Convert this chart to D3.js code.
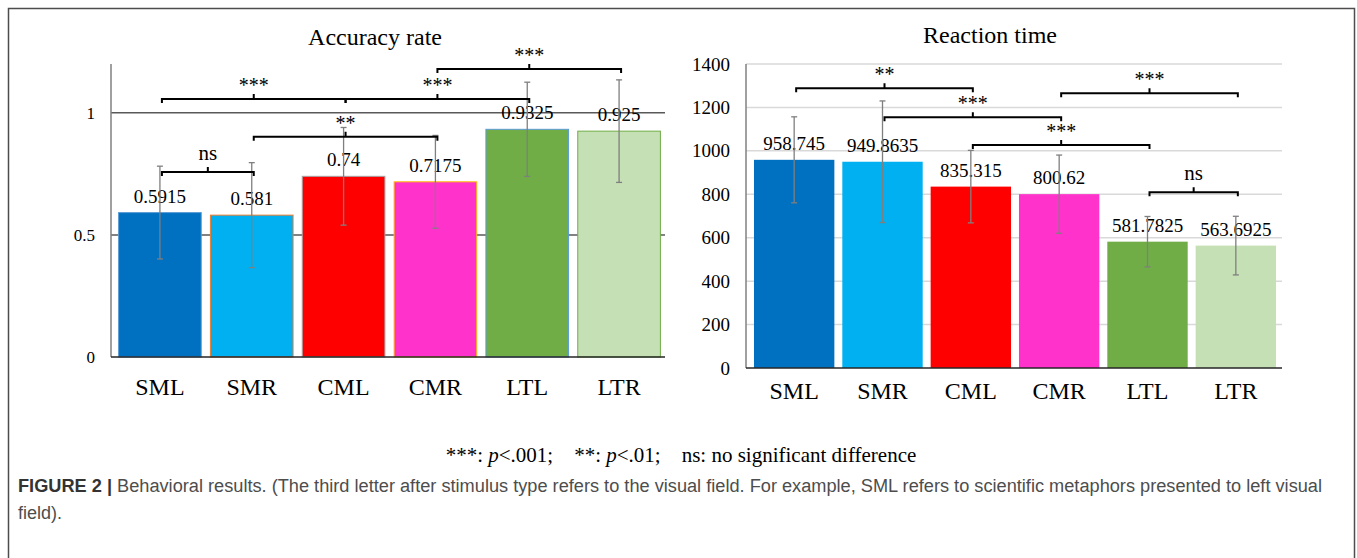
<!DOCTYPE html>
<html>
<head>
<meta charset="utf-8">
<script src="https://cdn.jsdelivr.net/npm/d3@7"></script>
<style>
  body { margin: 0; background: #fff; }
  text { font-family: "Liberation Serif", "Times New Roman", serif; }
</style>
</head>
<body>
<script>
// ---- data ----
const categories = ["SML", "SMR", "CML", "CMR", "LTL", "LTR"];
const barColors = ["#0070C0", "#00B0F0", "#FF0000", "#FF33CC", "#70AD47", "#C5E0B4"];
const barEdges = ["#5B9BD5", "#ED7D31", "#A5A5A5", "#FFC000", "#5B9BD5", "#70AD47"];

const accuracy = [0.5915, 0.581, 0.74, 0.7175, 0.9325, 0.925];
const accuracyErr = [0.19, 0.215, 0.2, 0.19, 0.193, 0.21];
const accuracyTicks = [0, 0.5, 1];
// [from, to, height (data units), label]
const accuracyBrackets = [
  ["SML", "SMR", 0.758, "ns"],
  ["SMR", "CMR", 0.902, "**"],
  ["SML", "CML", 1.057, "***"],
  ["CML", "LTL", 1.057, "***"],
  ["CMR", "LTR", 1.18, "***"]
];

const rt = [958.745, 949.8635, 835.315, 800.62, 581.7825, 563.6925];
const rtErr = [198, 280, 167, 180, 116, 135];
const rtTicks = [0, 200, 400, 600, 800, 1000, 1200, 1400];
const rtBrackets = [
  ["SML", "CML", 1288, "**"],
  ["SMR", "CMR", 1155, "***"],
  ["CML", "LTL", 1027, "***"],
  ["CMR", "LTR", 1265, "***"],
  ["LTL", "LTR", 809, "ns"]
];

const W = 1357, H = 558;
const svg = d3.select("body").append("svg")
  .attr("width", W).attr("height", H);

svg.append("rect").attr("width", W).attr("height", H).attr("fill", "#fff");
// frame around the figure (open at the bottom of the crop)
svg.append("rect")
  .attr("x", 8.5).attr("y", 8.5).attr("width", 1346).attr("height", 640)
  .attr("fill", "none").attr("stroke", "#4d4d4d").attr("stroke-width", 1.5);

function panel(o) {
  const g = svg.append("g");
  const x = d3.scaleBand().domain(categories)
    .range([o.x0, o.x1]).paddingInner(o.padIn).paddingOuter(o.padOut);
  const y = d3.scaleLinear().domain(o.domain).range([o.y0, o.y1]);

  // gridlines
  g.selectAll(".grid").data(o.grid).enter().append("line")
    .attr("x1", o.axisX).attr("x2", o.gridEnd)
    .attr("y1", d => y(d)).attr("y2", d => y(d))
    .attr("stroke", o.gridColor).attr("stroke-width", o.gridWidth);

  // y axis
  const ax = g.append("g").attr("transform", `translate(${o.axisX},0)`)
    .call(d3.axisLeft(y).tickValues(o.ticks).tickSize(0).tickPadding(16).tickFormat(d3.format("")));
  ax.attr("font-family", null);
  ax.select(".domain").remove();
  ax.selectAll("text")
    .style("font-family", "Liberation Serif").style("font-size", o.tickSize + "px")
    .attr("fill", "#000");
  g.append("line")
    .attr("x1", o.axisX).attr("x2", o.axisX)
    .attr("y1", y(o.domain[1])).attr("y2", y(0))
    .attr("stroke", "#808080").attr("stroke-width", 1.5);

  // bars
  g.selectAll(".bar").data(o.values).enter().append("rect")
    .attr("x", (d, i) => x(categories[i]))
    .attr("y", d => y(d))
    .attr("width", x.bandwidth())
    .attr("height", d => y(0) - y(d))
    .attr("fill", (d, i) => barColors[i])
    .attr("stroke", (d, i) => o.edges ? barEdges[i] : "none")
    .attr("stroke-width", 1);

  // baseline
  g.append("line")
    .attr("x1", o.axisX).attr("x2", o.gridEnd)
    .attr("y1", y(0)).attr("y2", y(0))
    .attr("stroke", "#262626").attr("stroke-width", 1.5);

  const cx = c => x(c) + x.bandwidth() / 2;

  // value labels
  g.selectAll(".val").data(o.values).enter().append("text")
    .attr("x", (d, i) => cx(categories[i]))
    .attr("y", d => y(d) - 10)
    .attr("text-anchor", "middle")
    .style("font-size", "19px")
    .text((d, i) => o.labels[i]);

  // error bars
  const eb = g.selectAll(".err").data(o.values).enter().append("g")
    .attr("stroke", "#7f7f7f").attr("stroke-width", 1.3);
  eb.append("line")
    .attr("x1", (d, i) => cx(categories[i])).attr("x2", (d, i) => cx(categories[i]))
    .attr("y1", (d, i) => y(d + o.errs[i])).attr("y2", (d, i) => y(d - o.errs[i]));
  [1, -1].forEach(s => {
    eb.append("line")
      .attr("x1", (d, i) => cx(categories[i]) - 3).attr("x2", (d, i) => cx(categories[i]) + 3)
      .attr("y1", (d, i) => y(d + s * o.errs[i])).attr("y2", (d, i) => y(d + s * o.errs[i]));
  });

  // significance brackets
  o.brackets.forEach(([a, b, h, lab]) => {
    const xa = cx(a) + 2, xb = cx(b) + 2, yy = y(h), xm = (xa + xb) / 2;
    g.append("path")
      .attr("d", `M${xa},${yy + 4}V${yy}H${xb}V${yy + 4}M${xm},${yy}V${yy - 5}`)
      .attr("fill", "none").attr("stroke", "#000").attr("stroke-width", 2);
    g.append("text")
      .attr("x", xm).attr("y", lab === "ns" ? yy - 12 : yy - 7)
      .attr("text-anchor", "middle")
      .style("font-size", lab === "ns" ? "21px" : "20px")
      .text(lab);
  });

  // category labels
  g.selectAll(".cat").data(categories).enter().append("text")
    .attr("x", d => cx(d)).attr("y", o.catY)
    .attr("text-anchor", "middle")
    .style("font-size", "24px")
    .text(d => d);

  // title
  g.append("text")
    .attr("x", o.titleX).attr("y", o.titleY)
    .attr("text-anchor", "middle")
    .style("font-size", "24px")
    .text(o.title);
}

panel({
  title: "Accuracy rate", titleX: 375, titleY: 45,
  x0: 114, x1: 665, padIn: 0.1, padOut: 0.05,
  axisX: 111, gridEnd: 665,
  domain: [0, 1.2], y0: 357, y1: 64,
  ticks: accuracyTicks, tickSize: 17,
  grid: [0.5, 1], gridColor: "#595959", gridWidth: 1.5,
  values: accuracy, errs: accuracyErr, labels: accuracy.map(String),
  brackets: accuracyBrackets, edges: true, catY: 395
});

panel({
  title: "Reaction time", titleX: 990, titleY: 43,
  x0: 750, x1: 1280, padIn: 0.09, padOut: 0.045,
  axisX: 746, gridEnd: 1282,
  domain: [0, 1400], y0: 368, y1: 64,
  ticks: rtTicks, tickSize: 19,
  grid: rtTicks.slice(1), gridColor: "#d9d9d9", gridWidth: 1.5,
  values: rt, errs: rtErr, labels: rt.map(String),
  brackets: rtBrackets, edges: false, catY: 399
});

// significance key
const key = svg.append("text")
  .attr("x", 681).attr("y", 462)
  .attr("text-anchor", "middle")
  .style("font-size", "21px")
  .attr("xml:space", "preserve");
key.append("tspan").text("***: ");
key.append("tspan").style("font-style", "italic").text("p");
key.append("tspan").text("<.001;    **: ");
key.append("tspan").style("font-style", "italic").text("p");
key.append("tspan").text("<.01;    ns: no significant difference");

// caption
const cap1 = svg.append("text")
  .attr("x", 18).attr("y", 492)
  .style("font-family", "Liberation Sans, Arial, sans-serif")
  .style("font-size", "18px")
  .attr("fill", "#4d4d4d")
  .attr("textLength", 1304).attr("lengthAdjust", "spacingAndGlyphs");
cap1.append("tspan").style("font-weight", "bold").attr("fill", "#333").text("FIGURE 2 | ");
cap1.append("tspan").text("Behavioral results. (The third letter after stimulus type refers to the visual field. For example, SML refers to scientific metaphors presented to left visual");
svg.append("text")
  .attr("x", 18).attr("y", 519)
  .style("font-family", "Liberation Sans, Arial, sans-serif")
  .style("font-size", "18px")
  .attr("fill", "#4d4d4d")
  .attr("textLength", 44).attr("lengthAdjust", "spacingAndGlyphs")
  .text("field).");
</script>
</body>
</html>
